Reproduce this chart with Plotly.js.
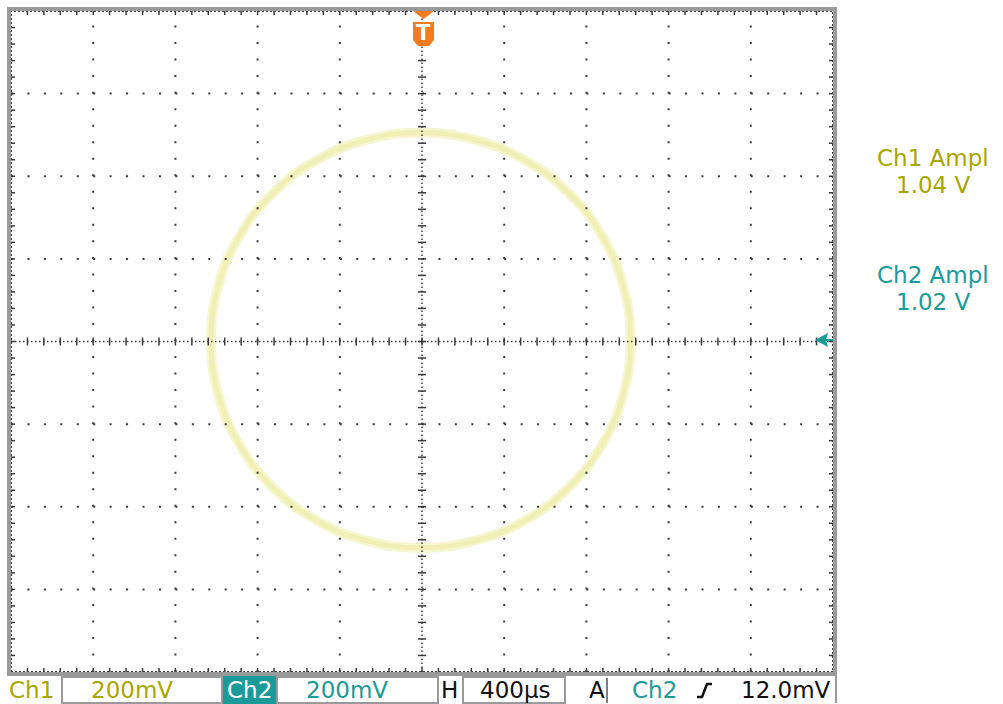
<!DOCTYPE html>
<html>
<head>
<meta charset="utf-8">
<script src="https://cdn.plot.ly/plotly-3.0.1.min.js"></script>
<style>
html,body{margin:0;padding:0;background:#fff;}
#chart{width:1003px;height:704px;}
</style>
</head>
<body>
<div id="chart"></div>
<script>
// XY-mode trace (volts)
const xVolts = [0.507, 0.490, 0.439, 0.358, 0.252, 0.129, -0.003, -0.135, -0.258, -0.364, -0.445, -0.496, -0.513, -0.496, -0.445, -0.364, -0.258, -0.135, -0.003, 0.129, 0.252, 0.358, 0.439, 0.490, 0.507];
const yVolts = [0.003, 0.133, 0.254, 0.358, 0.438, 0.488, 0.505, 0.488, 0.438, 0.358, 0.254, 0.133, 0.003, -0.127, -0.248, -0.352, -0.432, -0.482, -0.499, -0.482, -0.432, -0.352, -0.248, -0.127, 0.003];

// readouts
const measLabels = ["Ch1 Ampl", "Ch2 Ampl"];
const measValues = ["1.04 V", "1.02 V"];
const ch1Scale = "200mV";
const ch2Scale = "200mV";
const timeScale = "400µs";
const trigLevel = "12.0mV";

// graticule
const voltsPerDiv = 0.2;
const xDivs = 10, yDivs = 8, subDivs = 5;

const OLIVE = '#a8a600', TEAL = '#1b9a9a', ORANGE = '#f47c1e', DOT = '#3a3a3a';
const L = 11, R = 833, T = 11, B = 672;
const W = 1003, H = 704;
const px = v => (v - L) / (R - L);
const py = v => (B - v) / (B - T);

const xr = [-xDivs / 2 * voltsPerDiv, xDivs / 2 * voltsPerDiv];
const yr = [-yDivs / 2 * voltsPerDiv, yDivs / 2 * voltsPerDiv];
const xPerPx = (xr[1] - xr[0]) / (R - L);
const yPerPx = (yr[1] - yr[0]) / (B - T);

const shapes = [];
const xStepPx = (R - L) / (xDivs * subDivs);
const yStepPx = (B - T) / (yDivs * subDivs);
// dotted grid lines
for (let i = 1; i < xDivs; i++) {
  if (i === xDivs / 2) continue;
  const x = xr[0] + i * voltsPerDiv;
  shapes.push({type:'line', xref:'x', yref:'y', x0:x, x1:x, y0:yr[0], y1:yr[1],
    line:{color:DOT, width:2, dash:'2px,' + (yStepPx - 2).toFixed(3) + 'px'}});
}
for (let j = 1; j < yDivs; j++) {
  if (j === yDivs / 2) continue;
  const y = yr[0] + j * voltsPerDiv;
  shapes.push({type:'line', xref:'x', yref:'y', x0:xr[0], x1:xr[1], y0:y, y1:y,
    line:{color:DOT, width:2, dash:'2px,' + (xStepPx - 2).toFixed(3) + 'px'}});
}
// centre lines (dense dots)
shapes.push({type:'line', xref:'x', yref:'y', x0:0, x1:0, y0:yr[0], y1:yr[1], line:{color:DOT, width:1.5, dash:'1.5px,2.5px'}});
shapes.push({type:'line', xref:'x', yref:'y', x0:xr[0], x1:xr[1], y0:0, y1:0, line:{color:DOT, width:1.5, dash:'1.5px,2.5px'}});
// border dotted
shapes.push({type:'rect', xref:'x', yref:'y', x0:xr[0], x1:xr[1], y0:yr[0], y1:yr[1], line:{color:DOT, width:2, dash:'2px,2px'}});
// ticks on centre lines and borders
const tx = 4 * xPerPx, ty = 4 * yPerPx, bt = 4;
for (let i = 1; i < xDivs * subDivs; i++) {
  const x = xr[0] + i * voltsPerDiv / subDivs;
  shapes.push({type:'line', xref:'x', yref:'y', x0:x, x1:x, y0:-ty, y1:ty, line:{color:DOT, width:1.5}});
  shapes.push({type:'line', xref:'x', yref:'y', x0:x, x1:x, y0:yr[1], y1:yr[1] - bt * yPerPx, line:{color:DOT, width:1.5}});
  shapes.push({type:'line', xref:'x', yref:'y', x0:x, x1:x, y0:yr[0], y1:yr[0] + bt * yPerPx, line:{color:DOT, width:1.5}});
}
for (let j = 1; j < yDivs * subDivs; j++) {
  const y = yr[0] + j * voltsPerDiv / subDivs;
  shapes.push({type:'line', xref:'x', yref:'y', x0:-tx, x1:tx, y0:y, y1:y, line:{color:DOT, width:1.5}});
  shapes.push({type:'line', xref:'x', yref:'y', x0:xr[0], x1:xr[0] + bt * xPerPx, y0:y, y1:y, line:{color:DOT, width:1.5}});
  shapes.push({type:'line', xref:'x', yref:'y', x0:xr[1], x1:xr[1] - bt * xPerPx, y0:y, y1:y, line:{color:DOT, width:1.5}});
}
// trigger position marker
const pth = pts => 'M' + pts.map(p => px(p[0]).toFixed(5) + ',' + py(p[1]).toFixed(5)).join(' L') + ' Z';
shapes.push({type:'path', xref:'paper', yref:'paper', path:pth([[413,11],[434,11],[423.5,19]]), fillcolor:ORANGE, line:{width:0}});
shapes.push({type:'path', xref:'paper', yref:'paper', path:pth([[413,22],[434,22],[434,40],[429,46],[418,46],[413,40]]), fillcolor:ORANGE, line:{width:0}});
// ch2 ground marker
shapes.push({type:'path', xref:'paper', yref:'paper', path:pth([[815,340],[828,333],[826,340],[828,347]]), fillcolor:TEAL, line:{width:0}});
shapes.push({type:'line', xref:'paper', yref:'paper', x0:px(826), x1:px(833), y0:py(340), y1:py(340), line:{color:TEAL, width:2}});
// bottom bar boxes
const box = (x0, x1, fill) => shapes.push({type:'rect', xref:'paper', yref:'paper', x0:px(x0), x1:px(x1), y0:py(677), y1:py(703),
  fillcolor:fill || 'rgba(0,0,0,0)', line:{color:fill ? fill : '#9a9a9a', width:2}});
box(62, 222);
box(224, 275, TEAL);
box(277, 438);
box(463, 565);
shapes.push({type:'line', xref:'paper', yref:'paper', x0:px(607), x1:px(607), y0:py(678), y1:py(703), line:{color:'#555', width:1.5}});
shapes.push({type:'line', xref:'paper', yref:'paper', x0:px(836), x1:px(836), y0:py(676), y1:py(703), line:{color:'#9a9a9a', width:2}});
// trigger slope symbol
shapes.push({type:'path', xref:'paper', yref:'paper',
  path:'M' + [[697,697],[702,697],[707,684],[712,684]].map(p => px(p[0]).toFixed(5) + ',' + py(p[1]).toFixed(5)).join(' L'),
  line:{color:'#111', width:2.5}});

const F = 'DejaVu Sans, Verdana, sans-serif';
const ann = (text, xpx, ypx, color, size, extra) => Object.assign({
  text:text, xref:'paper', yref:'paper', x:px(xpx), y:py(ypx), xanchor:'center', yanchor:'middle',
  showarrow:false, font:{family:F, size:size, color:color}}, extra || {});
const annotations = [
  ann('T', 423.5, 33, '#ffffff', 21, {font:{family:F, size:21, color:'#fff', weight:'bold'}}),
  ann(measLabels[0], 933, 158, OLIVE, 23),
  ann(measValues[0], 933, 185, OLIVE, 23),
  ann(measLabels[1], 933, 275, TEAL, 23),
  ann(measValues[1], 933, 302, TEAL, 23),
  ann('Ch1', 31, 690, OLIVE, 23),
  ann(ch1Scale, 132, 690, OLIVE, 23),
  ann('Ch2', 250, 690, '#ffffff', 23),
  ann(ch2Scale, 347, 690, TEAL, 23),
  ann('H', 450, 690, '#111', 23),
  ann(timeScale, 515, 690, '#111', 23),
  ann('A', 597, 690, '#111', 23),
  ann('Ch2', 654, 690, TEAL, 23),
  ann(trigLevel, 786, 690, '#111', 23)
];

const traces = [
  {x:xVolts, y:yVolts, mode:'lines', line:{color:'rgba(242,240,180,0.6)', width:10, shape:'spline', smoothing:1.3}, hoverinfo:'skip'},
  {x:xVolts, y:yVolts, mode:'lines', line:{color:'rgba(236,233,150,0.5)', width:5, shape:'spline', smoothing:1.3}, hoverinfo:'skip'}
];

const layout = {
  width:W, height:H,
  margin:{l:L, r:W - R, t:T, b:H - B, pad:0},
  paper_bgcolor:'#ffffff', plot_bgcolor:'#ffffff',
  showlegend:false,
  xaxis:{range:xr, showgrid:false, zeroline:false, showticklabels:false, ticks:'', showline:true, mirror:true, linecolor:'#9a9a9a', linewidth:4, fixedrange:true},
  yaxis:{range:yr, showgrid:false, zeroline:false, showticklabels:false, ticks:'', showline:true, mirror:true, linecolor:'#9a9a9a', linewidth:4, fixedrange:true},
  shapes:shapes,
  annotations:annotations
};
Plotly.newPlot('chart', traces, layout, {staticPlot:true, displayModeBar:false});
</script>
</body>
</html>
